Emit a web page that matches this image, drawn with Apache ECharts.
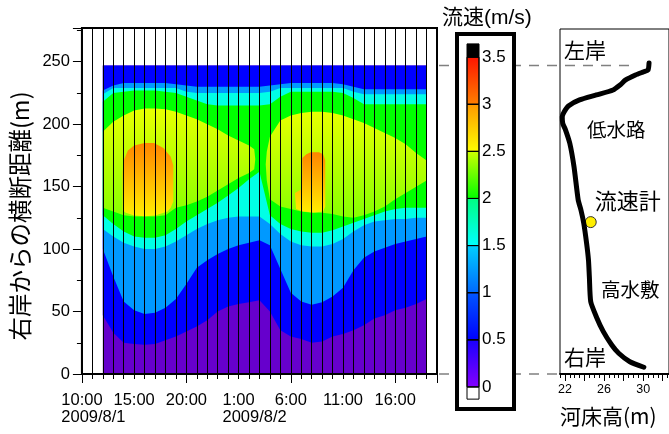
<!DOCTYPE html>
<html>
<head>
<meta charset="utf-8">
<script src="https://cdn.jsdelivr.net/npm/echarts@6.0.0/dist/echarts.min.js"></script>
<style>
html,body{margin:0;padding:0;background:#fff;}
#chart{width:669px;height:434px;}
</style>
</head>
<body>
<div id="chart"></div>
<script>
// ================= DATA =================
// time columns: hours after 2009/8/1 10:00
const hours = [2,3,4,5,6,7,8,9,10,11,12,13,14,15,16,17,18,19,20,21,22,23,24,25,26,27,28,29,30,31,32,33];
// water surface width (distance from right bank, m)
const surface = 247;
// contour boundaries per hour column (distance from right bank, m)
const c05Lower = [47,33,25,24,23.5,24,27,30,34,38,43,50,54,56,57.5,59,50,35,30,28,25,26,30,32,35,39,44.5,47,51,53,56,60];
const c10Lower = [100,78,58,51,48,49,53,60,72,85,91,96,100,103,105,107,103,84,65,58,55.5,57.5,62,69,83,93,98,101,104,106,108,110];
const c10Upper = [227,231,233,233,233,233,233,232,231,230,230,230,230,230,230,230,231,232,233,233,233,233,233,232,230,228,228,228,228,228,228,228];
const c15Lower = [116,110,105,102,100,100,102,106,111,116,120,123,125,126,126,126,120,112,106,103,102,102,104,108,114,119,122,123,124,124,125,125];
const c15Upper = [224,229,229,229,229,229,229,229,226,225,225,225,225,225,225,225,226,229,229,229,229,229,229,229,226,224,224,224,224,224,224,224];
const c20Lower = [127,120,114,110,109,109,111,116,122,127,132,137,143,149,156,162,127,120,116,114,113,113,115,118,121,124,127,130,132,133,133,133];
const c20Upper = [218,225,226,227,227,227,226,225,222,219,216,215,215,215,215,215,216,222,226,226,226,226,226,225,221,216,216,216,216,216,216,216];
// closed contour outlines [hour, distance]
const c25Zone1 = [[2,194],[3,202],[4,207],[5,211],[6,212.5],[7,212.5],[8,212],[9,210],[10,207],[11,204],[12,200],[13,196],[14,191],[15,187],[16,183],[16.5,180],[16.6,172],[16.5,164],[16,161],[15,157],[14,152],[13,147],[12,142],[11,138],[10,135],[9,133],[8.5,130],[8,127],[7,126],[6,126],[5,126],[4,127],[3,130],[2,133]];
const c25Zone2 = [[17.6,168],[17.7,178],[18,190],[19,203],[20,207],[21,209],[22,210],[23,210],[24,209],[25,207],[26,204],[27,201],[28,197],[29,193],[30,189],[31,184],[32,177],[33,171],[33,155],[32,150],[31,145],[30,140],[29,134],[28,130],[27,127],[26,125],[25,126],[24,128],[23,129],[22,129],[21,130],[20,132],[19,134],[18,140],[17.7,155]];
const c30Zone1 = [[3.9,131],[3.9,162],[4.05,172],[4.4,179],[5,183],[6,185],[6.9,185],[7.8,181],[8.5,174],[8.75,167],[8.75,138],[8.5,133],[8.2,130],[7,126.8],[6,126.3],[5,126.8],[4.2,129]];
const c30Zone2 = [[21.1,160],[21.1,173],[21.5,176],[21.9,177.5],[22.7,177.5],[23.1,176],[23.3,171],[23.3,134],[23.1,130],[22.2,129.3],[21.2,130],[20.5,132],[20.4,145],[21.0,148]];

// axis ticks / labels
const timeTicks = [0,5,10,15,20,25,30];
const timeLabels = ['10:00','15:00','20:00','1:00','6:00','11:00','16:00'];
const dateTicks = [0,15];
const dateLabels = ['2009/8/1','2009/8/2'];
const distTicks = [0,50,100,150,200,250];
const speedTicks = [0,0.5,1,1.5,2,2.5,3,3.5];
// colour bar classes (m/s)
const cbLower = [-0.13,0,0.5,1,1.5,2,2.5,3,3.5];
const cbUpper = [0,0.5,1,1.5,2,2.5,3,3.5,3.64];
// river bed cross-section: bed elevation (m) vs distance from right bank (m)
const bedElev = [30.07,28.64,27.5,26.79,25.93,25.21,24.64,24.5,24.41,24.22,23.93,23.64,23.36,22.93,22.5,22.07,21.78,21.73,21.93,22.36,23.5,25.21,26.92,27.64,28.21,29.21,30.07,30.5,30.6];
const bedDist = [5.4,9.8,16.6,23.2,33.9,45.9,57.9,77.9,91.3,104.6,120.6,131.3,139.3,166,184.7,195.3,200.7,206,210,214.6,219.4,223.4,227.4,231.4,235.4,239.4,242,243.4,249];
const meter = [24.64,121.6];
const leftBankWaterEdge = 29.2;
const elevTicksMajor = [22,24,26,28,30,32];
const elevLabels = [22,26,30];
const elevTicksMinor = [21.5,22,22.5,23,23.5,24,24.5,25,25.5,26,26.5,27,27.5,28,28.5,29,29.5,30,30.5,31,31.5,32,32.5];

// ================= STYLES =================
const FONT = '"Liberation Sans", "Noto Sans CJK JP", sans-serif';
const CJK = '"Noto Sans CJK JP", "Liberation Sans", sans-serif';
const bandColors = ['#6600cc','#0000ff','#0099ff','#00ffe6','#00ff00',
  ['#e8ff00','#86ff00'],['#e8ff00','#86ff00'],['#ff8400','#ffee00'],['#ff8400','#ffee00']];
const cbColors = ['#ffffff',['#8400ff','#1800ff'],['#0000ff','#0058ff'],['#0068ff','#00d0ff'],
  ['#00ffff','#00ff80'],['#00ff00','#d0ff00'],['#ffff00','#ff9800'],['#ff8000','#ff1400'],'#000000'];

function bandPoly(lower, upper) {
  const a = hours.map((h, i) => [h, lower[i]]);
  const b = hours.map((h, i) => [h, upper[i]]).reverse();
  return a.concat(b);
}
const flat = v => hours.map(() => v);
const contourPolys = [
  bandPoly(flat(0), flat(surface)),
  bandPoly(c05Lower, flat(surface)),
  bandPoly(c10Lower, c10Upper),
  bandPoly(c15Lower, c15Upper),
  bandPoly(c20Lower, c20Upper),
  c25Zone1, c25Zone2, c30Zone1, c30Zone2
];

function contourItem(params, api) {
  const k = params.dataIndex;
  const pts = contourPolys[k].map(p => api.coord(p));
  const c = bandColors[k];
  const fill = Array.isArray(c)
    ? new echarts.graphic.LinearGradient(0, 0, 0, 1, [{offset: 0, color: c[0]}, {offset: 1, color: c[1]}])
    : c;
  return {type: 'polygon', shape: {points: pts}, style: {fill: fill, stroke: null}};
}
function cbItem(params, api) {
  const k = params.dataIndex;
  const p1 = api.coord([0, cbUpper[k]]);
  const p2 = api.coord([1, cbLower[k]]);
  const c = cbColors[k];
  const fill = Array.isArray(c)
    ? new echarts.graphic.LinearGradient(0, 1, 0, 0, [{offset: 0, color: c[0]}, {offset: 1, color: c[1]}])
    : c;
  return {type: 'rect', shape: {x: p1[0], y: p1[1], width: p2[0] - p1[0], height: p2[1] - p1[1]},
    style: {fill: fill, stroke: '#000', lineWidth: 1}};
}

const LBL = 16.5;
function textW(s, size) {
  const ctx = document.createElement('canvas').getContext('2d');
  ctx.font = size + 'px "Liberation Sans"';
  return ctx.measureText(s).width;
}
const richX = {
  t: {fontSize: LBL, fontFamily: FONT, color: '#000', lineHeight: 17, align: 'left'},
  d: {fontSize: LBL, fontFamily: FONT, color: '#000', lineHeight: 17, align: 'left'}
};
dateTicks.forEach((v, j) => {
  const i = timeTicks.indexOf(v);
  richX['p' + j] = {width: Math.max(0, textW(dateLabels[j], LBL) - textW(timeLabels[i], LBL)),
    fontSize: LBL, lineHeight: 17, align: 'left'};
});
function timeFormatter(v) {
  const i = timeTicks.indexOf(v);
  if (i < 0) return '';
  const j = dateTicks.indexOf(v);
  if (j < 0) return '{t|' + timeLabels[i] + '}';
  return '{p' + j + '| }{t|' + timeLabels[i] + '}\n{p' + j + '| }{d|' + dateLabels[j] + '}';
}

const chart = echarts.init(document.getElementById('chart'), null, {renderer: 'canvas'});
const black = {color: '#000'};
chart.setOption({
  animation: false,
  backgroundColor: '#fff',
  title: {text: '流速(m/s)', left: 437, top: 3,
    textStyle: {fontFamily: FONT, fontSize: 21, fontWeight: 'normal', color: '#000'}},
  grid: [
    {left: 81, top: 28, width: 356, height: 346, show: true, borderColor: '#000', borderWidth: 2},
    {left: 467, top: 10, width: 12, height: 424},
    {left: 560, top: 29, width: 130, height: 345, show: true, borderColor: '#000', borderWidth: 1}
  ],
  xAxis: [
    {gridIndex: 0, type: 'value', min: 0, max: 34, interval: 1, position: 'bottom', z: 5,
      axisLine: {onZero: false, lineStyle: {color: '#000', width: 2}},
      axisTick: {length: 5, lineStyle: black},
      splitLine: {show: true, lineStyle: {color: '#000', width: 1}},
      axisLabel: {margin: 18, formatter: timeFormatter, rich: richX, fontSize: LBL, fontFamily: FONT, color: '#000'}},
    {gridIndex: 0, type: 'value', min: 0, max: 34, interval: 10, position: 'bottom', z: 5,
      axisLine: {show: false}, axisTick: {length: 9, lineStyle: black},
      axisLabel: {show: false}, splitLine: {show: false}},
    {gridIndex: 1, type: 'value', min: 0, max: 1, show: false},
    {gridIndex: 2, type: 'value', min: 21.5, max: 32.64, position: 'bottom',
      axisLine: {onZero: false, lineStyle: {color: '#000', width: 2}},
      axisTick: {customValues: elevTicksMajor, length: 7, lineStyle: black},
      axisLabel: {customValues: elevLabels, margin: 9, fontSize: 12.5, fontFamily: FONT, color: '#000'},
      splitLine: {show: false},
      name: '河床高(m)', nameLocation: 'start', nameGap: 0,
      nameTextStyle: {align: 'left', verticalAlign: 'top', padding: [32, 0, 0, 0], fontSize: 21, fontFamily: CJK, color: '#000'}},
    {gridIndex: 2, type: 'value', min: 21.5, max: 32.64, position: 'bottom',
      axisLine: {show: false}, axisTick: {customValues: elevTicksMinor, length: 4, lineStyle: black},
      axisLabel: {show: false}, splitLine: {show: false}}
  ],
  yAxis: [
    {gridIndex: 0, type: 'value', min: 0, max: 277, interval: 25, position: 'left',
      axisLine: {onZero: false, lineStyle: {color: '#000', width: 2}},
      axisTick: {length: 5, lineStyle: black}, splitLine: {show: false},
      axisLabel: {margin: 12, formatter: v => distTicks.includes(v) ? String(v) : '', fontSize: LBL, fontFamily: FONT, color: '#000'},
      name: '右岸からの横断距離(m)', nameLocation: 'middle', nameGap: 47,
      nameTextStyle: {fontSize: 23.5, fontFamily: CJK, color: '#000', padding: [0, 30, 0, 0]}},
    {gridIndex: 0, type: 'value', min: 0, max: 277, interval: 50, position: 'left',
      axisLine: {show: false}, axisTick: {length: 9, lineStyle: black},
      axisLabel: {show: false}, splitLine: {show: false}},
    {gridIndex: 1, type: 'value', min: -0.5, max: 4, interval: 0.5, position: 'right',
      axisLine: {show: false}, axisTick: {show: false}, splitLine: {show: false},
      axisLabel: {margin: 3, formatter: v => speedTicks.includes(v) ? String(v) : '', fontSize: 17, fontFamily: FONT, color: '#000', padding: [6, 0, 0, 0]}},
    {gridIndex: 2, type: 'value', min: 0, max: 276.2, show: false}
  ],
  series: [
    {type: 'custom', xAxisIndex: 0, yAxisIndex: 0, renderItem: contourItem, silent: true,
      data: contourPolys.map((_, i) => [i, 0])},
    {type: 'custom', xAxisIndex: 2, yAxisIndex: 2, renderItem: cbItem, silent: true,
      data: cbLower.map((v, i) => [0, v])},
    {type: 'line', xAxisIndex: 3, yAxisIndex: 3, symbol: 'none', smooth: 0.2, silent: true,
      data: bedElev.map((e, i) => [e, bedDist[i]]),
      lineStyle: {color: '#000', width: 5, cap: 'round', join: 'round'}},
    {type: 'scatter', xAxisIndex: 3, yAxisIndex: 3, data: [meter], symbolSize: 11, silent: true,
      itemStyle: {color: '#ffee00', borderColor: '#333', borderWidth: 1, opacity: 1},
      label: {show: true, formatter: '流速計', position: [10, -26], fontSize: 22, fontFamily: CJK, color: '#000'}}
  ]
});

const pTopL = chart.convertToPixel({xAxisIndex: 0, yAxisIndex: 0}, [34, surface]);
const pTopR = chart.convertToPixel({xAxisIndex: 3, yAxisIndex: 3}, [leftBankWaterEdge, surface]);
const pBotL = chart.convertToPixel({xAxisIndex: 0, yAxisIndex: 0}, [34, 0]);
const pBotR = chart.convertToPixel({xAxisIndex: 3, yAxisIndex: 3}, [21.5, 0]);
const dash = {stroke: '#808080', lineWidth: 1.5, lineDash: [10, 8]};
const txt = (x, y, s, size) => ({type: 'text', x: x, y: y,
  style: {text: s, fontSize: size, fontFamily: CJK, fill: '#000', verticalAlign: 'middle'}});
chart.setOption({
  graphic: {elements: [
    {type: 'line', z: -1, shape: {x1: pTopL[0] + 2, y1: pTopL[1], x2: pTopR[0], y2: pTopR[1]}, style: dash},
    {type: 'line', z: -1, shape: {x1: pBotL[0] + 2, y1: pBotL[1], x2: pBotR[0], y2: pBotR[1]}, style: dash},
    {type: 'rect', z: -1, shape: {x: 457, y: 34, width: 57, height: 375}, style: {fill: '#fff', stroke: '#000', lineWidth: 4}},
    txt(564, 50, '左岸', 21),
    txt(587, 130, '低水路', 19.5),
    txt(601, 290, '高水敷', 19.5),
    txt(564, 357, '右岸', 21)
  ]}
});
</script>
</body>
</html>
